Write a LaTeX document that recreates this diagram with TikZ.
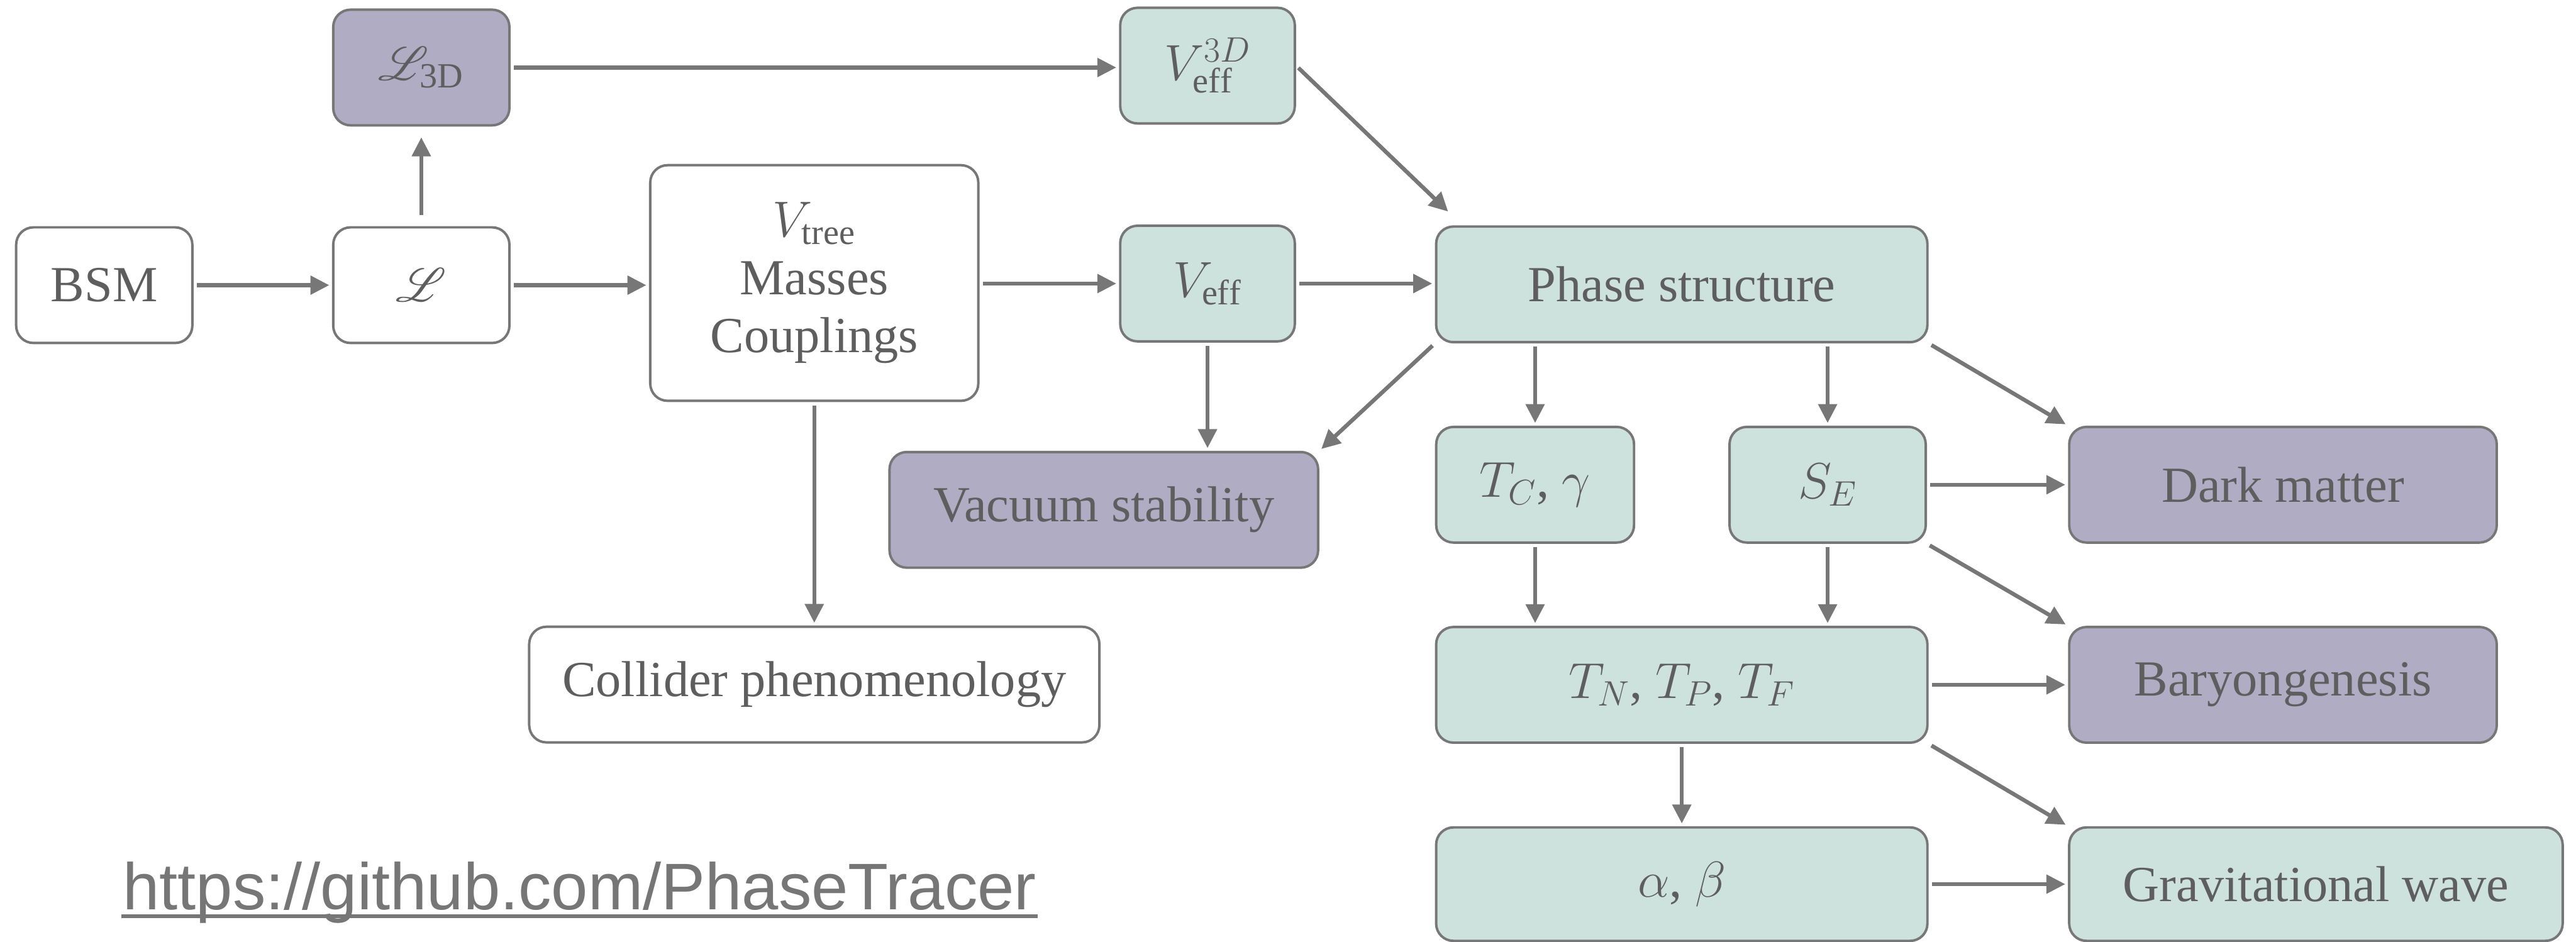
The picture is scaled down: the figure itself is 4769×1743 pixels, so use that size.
\RequirePackage{fix-cm}
\documentclass[tikz,border=0pt]{standalone}
\usepackage{mathrsfs}
\usepackage{fontspec}
\setmainfont{Liberation Serif}
\newfontfamily\urlfont{Liberation Sans}
\usetikzlibrary{arrows.meta}

\definecolor{linegray}{RGB}{118,119,118}
\definecolor{textgray}{RGB}{94,94,94}
\definecolor{urlgray}{RGB}{118,118,118}
\definecolor{tealfill}{RGB}{205,225,221}
\definecolor{lilac}{RGB}{176,172,196}

\begin{document}
\begin{tikzpicture}[
		x=0.01cm, y=-0.01cm,
		every node/.style={
			draw=linegray, rectangle, rounded corners=0.32cm,
			line width=1.3pt,
			align=center,
			text=textgray,
			inner sep=0pt,
			minimum height=2.14cm,
			font=\fontsize{26.6}{30.5}\selectfont
		},
		plain/.style={fill=white},
		calc/.style={fill=tealfill},
		result/.style={fill=lilac},
		weblink/.style={
			draw=none, anchor=base west,
			minimum height=0pt, minimum width=0pt,
			text=urlgray, font=\urlfont\fontsize{34.7}{40}\selectfont
		},
		arr/.style={
			draw=linegray, line width=2.1pt,
			-{Triangle[length=0.35cm,width=0.34cm]},
			shorten <=0.06cm, shorten >=0.05cm
		}
		]
		\useasboundingbox (0,0) rectangle (4769,1743);
		
		% model side
		\node[plain, minimum width=3.26cm] (bsm) at (193,528) {BSM};
		\node[plain, minimum width=3.26cm] (lag) at (780,528) {$\mathscr{L}$};
		\node[result, minimum width=3.26cm] (lagtd) at (780,125) {$\mathscr{L}_{\mathrm{3D}}$};
		\node[plain, minimum width=6.07cm, minimum height=4.36cm] (vtree) at (1507.5,524) {$V_{\mathrm{tree}}$\\Masses\\Couplings};
		\node[calc, minimum width=3.23cm] (vtd) at (2235.5,121.5) {$V^{3D}_{\mathrm{eff}}$};
		\node[calc, minimum width=3.23cm] (veff) at (2235.5,525) {$V_{\mathrm{eff}}$};
		\node[result, minimum width=7.93cm] (vac) at (2043.5,944) {Vacuum stability};
		\node[plain, minimum width=10.55cm] (coll) at (1507.5,1267.5) {Collider phenomenology};
		
		% transition side
		\node[calc, minimum width=9.09cm] (phase) at (3113.5,526.5) {Phase structure};
		\node[calc, minimum width=3.66cm] (tc) at (2842,897.5) {$T_C$, $\gamma$};
		\node[calc, minimum width=3.63cm] (se) at (3383.5,897.5) {$S_E$};
		\node[result, minimum width=7.91cm] (dm) at (4226.5,897.5) {Dark matter};
		\node[calc, minimum width=9.09cm] (tn) at (3113.5,1268) {$T_N$, $T_P$, $T_F$};
		\node[result, minimum width=7.91cm] (baryo) at (4226.5,1268) {Baryongenesis};
		\node[calc, minimum width=9.09cm, minimum height=2.10cm] (ab) at (3113.5,1637) {$\alpha$, $\beta$};
		\node[calc, minimum width=9.13cm, minimum height=2.10cm] (gw) at (4287.5,1637) {Gravitational wave};
		
		\node[weblink] (url) at (225,1684) {https://github.com/PhaseTracer};
		\draw[urlgray, line width=0.07cm] ([yshift=-0.12cm]url.base west) -- ([yshift=-0.12cm]url.base east);
		
		% arrows
		\draw[arr] (bsm) -- (lag);
		\draw[arr, shorten <=0.2cm, shorten >=0.2cm] (lag) -- (lagtd);
		\draw[arr] (lag.east) -- (lag.east -| vtree.west);
		\draw[arr] (lagtd.east) -- (lagtd.east -| vtd.west);
		\draw[arr] (vtree.east |- veff) -- (veff);
		\draw[arr] (veff) -- (veff -| phase.west);
		\draw[arr] (vtd.east) -- ([shift={(28,-22)}]phase.north west);
		\draw[arr] (veff) -- (veff |- vac.north);
		\draw[arr] (phase.south west) -- (vac.north east);
		\draw[arr] (vtree) -- (coll);
		\draw[arr] (tc |- phase.south) -- (tc);
		\draw[arr] (se |- phase.south) -- (se);
		\draw[arr] (phase.south east) -- (dm.north west);
		\draw[arr] (se) -- (dm);
		\draw[arr] (se.south east) -- (baryo.north west);
		\draw[arr] (tc) -- (tc |- tn.north);
		\draw[arr] (se) -- (se |- tn.north);
		\draw[arr] (tn) -- (baryo);
		\draw[arr] (tn.south east) -- (gw.north west);
		\draw[arr] (tn) -- (ab);
		\draw[arr] (ab) -- (gw);
	\end{tikzpicture}
\end{document}
